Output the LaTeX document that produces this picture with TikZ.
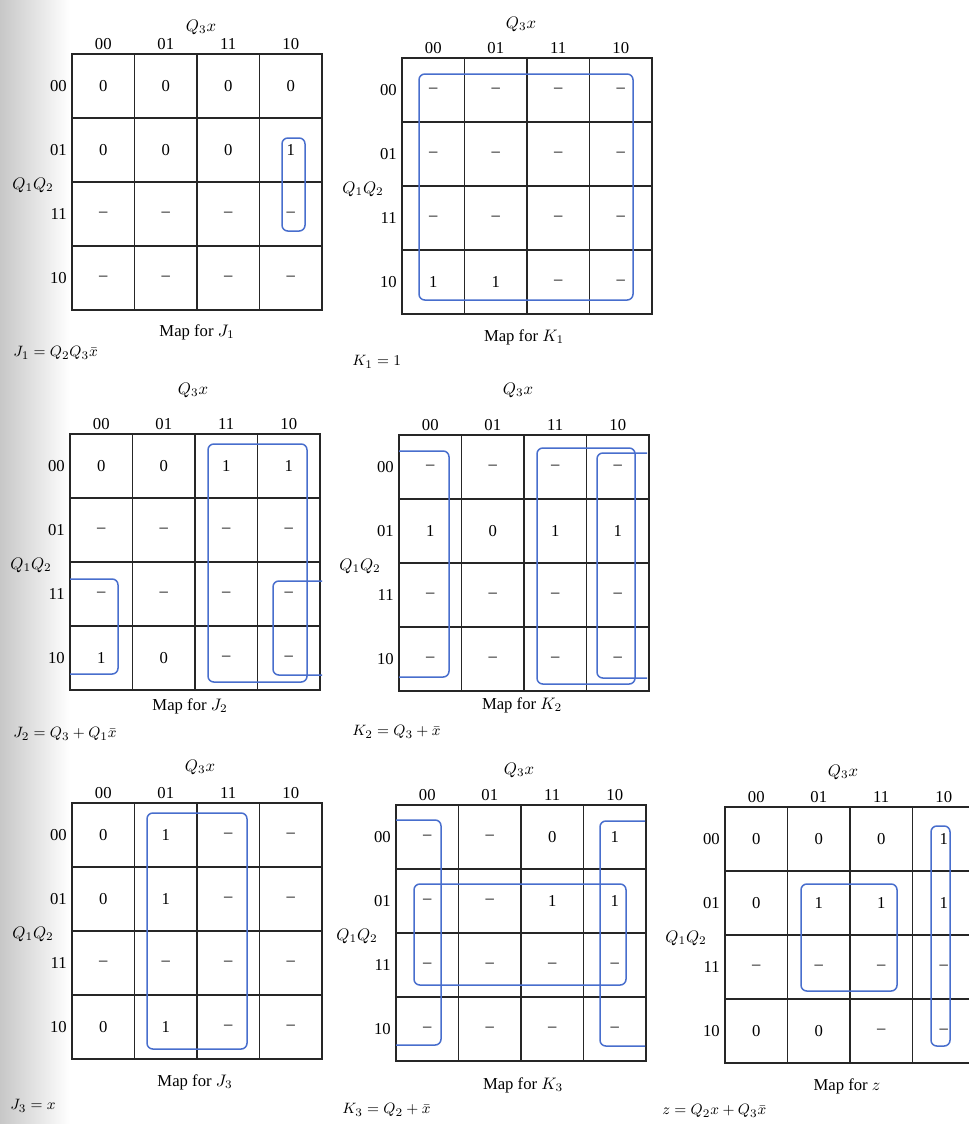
\documentclass[tikz,border=0pt]{standalone}
\usepackage{fontspec}
\setmainfont{Liberation Serif}
\definecolor{loopblue}{RGB}{72,110,205}
\newcommand{\dk}{\textendash}
\newcommand{\kmap}[4]{%
  \draw[gridline] (#2,#3) rectangle ++(250,256);
  \foreach \i in {1,2,3} {
    \draw[gridline] (#2+\i*62.5,#3) -- ++(0,256);
    \draw[gridline] (#2,#3+\i*64) -- ++(250,0);
  }
  \foreach \lab [count=\k from 0] in {00,01,11,10} {
    \node[lab] (#1-c\k) at (#2+31.25+\k*62.5,#3-10) {\lab};
    \node[lab,anchor=east] (#1-r\k) at (#2-5,#3+32+\k*64) {\lab};
  }
  \foreach \v [count=\k from 0] in {#4} {
    \pgfmathtruncatemacro\rr{div(\k,4)}
    \pgfmathtruncatemacro\cc{mod(\k,4)}
    \node[cell] (#1-\rr\cc) at (#2+31.25+\cc*62.5,#3+32+\rr*64) {\v};
  }
  \node[lab,anchor=east] (#1-rowvar) at (#2-18,#3+131) {$Q_1Q_2$};
}
\begin{document}
\begin{tikzpicture}[x=0.6pt,y=-0.6pt,
  gridline/.style={line width=1pt,black!85},
  kloop/.style={draw=loopblue,line width=0.9pt,rounded corners=3.5pt},
  cell/.style={font=\fontsize{10}{12}\selectfont,inner sep=0pt},
  lab/.style={font=\fontsize{10}{12}\selectfont,inner sep=0pt},
  title/.style={font=\fontsize{10}{12}\selectfont,inner sep=0pt},
  eqn/.style={font=\fontsize{9.5}{11}\selectfont,inner sep=0pt,anchor=west}]
\useasboundingbox (0,0) rectangle (969,1124);
\clip (0,0) rectangle (969,1124);
\fill[white] (0,0) rectangle (969,1124);
\shade[left color=black!22,right color=white] (0,0) rectangle (70,1124);

% ---------- J1 ----------
\kmap{J1}{72}{54}{0,0,0,0, 0,0,0,1, \dk,\dk,\dk,\dk, \dk,\dk,\dk,\dk}
\node[lab] (J1-var) at (201,27) {$Q_3x$};
\node[title] (J1-t) at (197,332) {Map for $J_1$};
\node[eqn] (J1-e) at (13,353) {$J_1 = Q_2Q_3\bar{x}$};
\draw[kloop] (282,138) rectangle (305,231);

% ---------- K1 ----------
\kmap{K1}{402}{58}{\dk,\dk,\dk,\dk, \dk,\dk,\dk,\dk, \dk,\dk,\dk,\dk, 1,1,\dk,\dk}
\node[lab] (K1-var) at (521,24) {$Q_3x$};
\node[title] (K1-t) at (524,337) {Map for $K_1$};
\node[eqn] (K1-e) at (352,362) {$K_1 = 1$};
\draw[kloop] (419,74) rectangle (633,300);

% ---------- J2 ----------
\kmap{J2}{70}{434}{0,0,1,1, \dk,\dk,\dk,\dk, \dk,\dk,\dk,\dk, 1,0,\dk,\dk}
\node[lab] (J2-var) at (193,390) {$Q_3x$};
\node[title] (J2-t) at (190,706) {Map for $J_2$};
\node[eqn] (J2-e) at (13,734) {$J_2 = Q_3 + Q_1\bar{x}$};
\draw[kloop] (208,444) rectangle (307,682);
\draw[kloop] (70,579) -- (118,579) -- (118,674) -- (70,674);
\draw[kloop] (322,581) -- (273,581) -- (273,675) -- (322,675);

% ---------- K2 ----------
\kmap{K2}{399}{435}{\dk,\dk,\dk,\dk, 1,0,1,1, \dk,\dk,\dk,\dk, \dk,\dk,\dk,\dk}
\node[lab] (K2-var) at (518,390) {$Q_3x$};
\node[title] (K2-t) at (522,705) {Map for $K_2$};
\node[eqn] (K2-e) at (352,732) {$K_2 = Q_3 + \bar{x}$};
\draw[kloop] (399,451) -- (449,451) -- (449,677) -- (399,677);
\draw[kloop] (537,448) rectangle (635,684);
\draw[kloop] (647,453) -- (597,453) -- (597,678) -- (647,678);

% ---------- J3 ----------
\kmap{J3}{72}{803}{0,1,\dk,\dk, 0,1,\dk,\dk, \dk,\dk,\dk,\dk, 0,1,\dk,\dk}
\node[lab] (J3-var) at (200,767) {$Q_3x$};
\node[title] (J3-t) at (195,1082) {Map for $J_3$};
\node[eqn] (J3-e) at (10,1106) {$J_3 = x$};
\draw[kloop] (147,813) rectangle (247,1049);

% ---------- K3 ----------
\kmap{K3}{396}{805}{\dk,\dk,0,1, \dk,\dk,1,1, \dk,\dk,\dk,\dk, \dk,\dk,\dk,\dk}
\node[lab] (K3-var) at (519,770) {$Q_3x$};
\node[title] (K3-t) at (523,1085) {Map for $K_3$};
\node[eqn] (K3-e) at (342,1110) {$K_3 = Q_2 + \bar{x}$};
\draw[kloop] (396,820) -- (441,820) -- (441,1045) -- (396,1045);
\draw[kloop] (645,821) -- (600,821) -- (600,1046) -- (645,1046);
\draw[kloop] (414,884) rectangle (626,985);

% ---------- z ----------
\kmap{Z}{725}{807}{0,0,0,1, 0,1,1,1, \dk,\dk,\dk,\dk, 0,0,\dk,\dk}
\node[lab] (Z-var) at (843,772) {$Q_3x$};
\node[title] (Z-t) at (847,1086) {Map for $z$};
\node[eqn] (Z-e) at (662,1111) {$z = Q_2x + Q_3\bar{x}$};
\draw[kloop] (931,826) rectangle (950,1046);
\draw[kloop] (801,884) rectangle (897,991);
\end{tikzpicture}
\end{document}
